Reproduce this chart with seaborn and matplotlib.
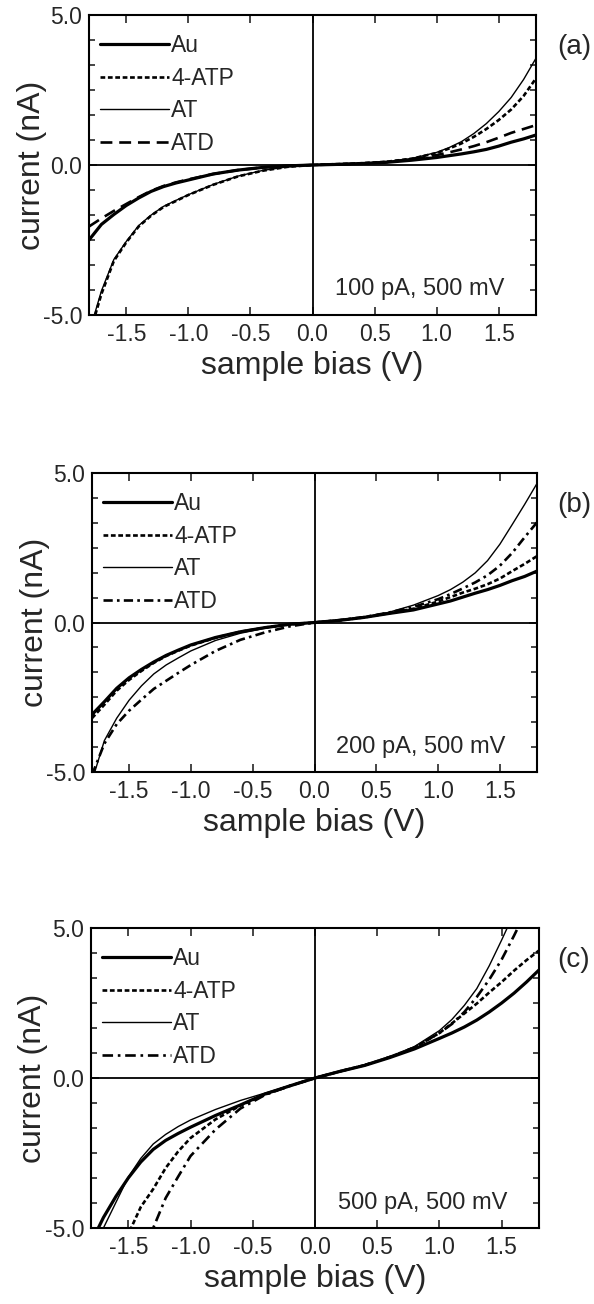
import numpy as np
import pandas as pd
import matplotlib
matplotlib.use("Agg")
import matplotlib.pyplot as plt
from matplotlib.ticker import MultipleLocator, FormatStrFormatter, FixedLocator
import seaborn as sns

# ---------------- data ----------------
bias = [-1.8, -1.7, -1.6, -1.5, -1.4, -1.3, -1.2, -1.1, -1.0, -0.8, -0.6, -0.4, -0.2,
        0.0, 0.2, 0.4, 0.6, 0.8, 1.0, 1.1, 1.2, 1.3, 1.4, 1.5, 1.6, 1.7, 1.8]

au_a = [-2.50, -1.98, -1.65, -1.35, -1.10, -0.88, -0.72, -0.60, -0.50, -0.30, -0.17, -0.08, -0.03,
        0.0, 0.02, 0.05, 0.09, 0.16, 0.25, 0.31, 0.37, 0.44, 0.52, 0.63, 0.76, 0.87, 1.00]
atp_a = [-5.70, -4.30, -3.20, -2.58, -2.05, -1.69, -1.40, -1.20, -1.00, -0.66, -0.38, -0.19, -0.06,
         0.0, 0.03, 0.06, 0.11, 0.21, 0.40, 0.55, 0.72, 0.94, 1.20, 1.50, 1.85, 2.30, 2.89]
at_a = [-5.60, -4.20, -3.15, -2.55, -2.02, -1.67, -1.38, -1.18, -0.99, -0.65, -0.37, -0.18, -0.06,
        0.0, 0.03, 0.06, 0.11, 0.22, 0.42, 0.58, 0.78, 1.05, 1.38, 1.78, 2.25, 2.85, 3.56]
atd_a = [-2.05, -1.78, -1.53, -1.30, -1.07, -0.86, -0.70, -0.58, -0.48, -0.30, -0.17, -0.08, -0.03,
         0.0, 0.02, 0.05, 0.10, 0.19, 0.33, 0.42, 0.52, 0.63, 0.76, 0.91, 1.07, 1.20, 1.33]

au_b = [-3.08, -2.65, -2.20, -1.85, -1.57, -1.32, -1.10, -0.92, -0.75, -0.50, -0.31, -0.17, -0.06,
        0.0, 0.07, 0.17, 0.30, 0.42, 0.62, 0.72, 0.85, 0.98, 1.10, 1.24, 1.40, 1.54, 1.72]
atp_b = [-3.20, -2.75, -2.28, -1.92, -1.62, -1.35, -1.12, -0.94, -0.77, -0.51, -0.31, -0.17, -0.06,
         0.0, 0.07, 0.17, 0.31, 0.46, 0.70, 0.85, 1.00, 1.13, 1.28, 1.47, 1.72, 1.96, 2.22]
at_b = [-5.30, -3.95, -3.20, -2.60, -2.12, -1.72, -1.42, -1.18, -0.95, -0.60, -0.36, -0.19, -0.07,
        0.0, 0.08, 0.18, 0.34, 0.58, 0.90, 1.10, 1.35, 1.66, 2.07, 2.62, 3.28, 3.95, 4.65]
atd_b = [-5.10, -4.05, -3.40, -2.95, -2.58, -2.22, -1.95, -1.68, -1.42, -0.95, -0.58, -0.33, -0.13,
         0.0, 0.08, 0.18, 0.33, 0.52, 0.78, 0.95, 1.14, 1.34, 1.58, 1.90, 2.33, 2.85, 3.35]

au_c = [-5.50, -4.65, -3.95, -3.33, -2.80, -2.38, -2.08, -1.85, -1.64, -1.25, -0.90, -0.53, -0.26,
        0.0, 0.22, 0.42, 0.68, 0.97, 1.32, 1.50, 1.70, 1.93, 2.20, 2.50, 2.83, 3.20, 3.60]
atp_c = [-8.00, -7.00, -6.00, -5.20, -4.30, -3.70, -3.00, -2.45, -2.00, -1.38, -0.92, -0.55, -0.26,
         0.0, 0.22, 0.43, 0.70, 1.02, 1.50, 1.82, 2.15, 2.48, 2.85, 3.20, 3.58, 3.93, 4.25]
at_c = [-5.80, -5.00, -4.15, -3.30, -2.68, -2.20, -1.88, -1.62, -1.40, -1.05, -0.75, -0.50, -0.25,
        0.0, 0.22, 0.42, 0.69, 1.05, 1.58, 1.95, 2.42, 2.98, 3.74, 4.60, 5.50, 6.40, 7.30]
atd_c = [-10.0, -9.00, -8.00, -7.00, -6.00, -5.00, -4.00, -3.29, -2.60, -1.72, -1.02, -0.56, -0.26,
         0.0, 0.22, 0.43, 0.70, 1.02, 1.50, 1.80, 2.20, 2.70, 3.28, 3.95, 4.75, 5.60, 6.40]

samples = ["Au", "4-ATP", "AT", "ATD"]
panel_labels = ["(a)", "(b)", "(c)"]
setpoints = ["100 pA, 500 mV", "200 pA, 500 mV", "500 pA, 500 mV"]
x_ticks = [-1.5, -1.0, -0.5, 0.0, 0.5, 1.0, 1.5]
y_ticks = [-5.0, 0.0, 5.0]
x_label = "sample bias (V)"
y_label = "current (nA)"

panels_data = [
    {"Au": au_a, "4-ATP": atp_a, "AT": at_a, "ATD": atd_a},
    {"Au": au_b, "4-ATP": atp_b, "AT": at_b, "ATD": atd_b},
    {"Au": au_c, "4-ATP": atp_c, "AT": at_c, "ATD": atd_c},
]

# ---------------- styles ----------------
sns.set_style("ticks")
plt.rcParams["font.family"] = ["Liberation Sans", "DejaVu Sans"]
plt.rcParams["axes.unicode_minus"] = False

widths = {"Au": 2.3, "4-ATP": 1.9, "AT": 1.0, "ATD": 1.9}
styles_per_panel = [
    {"Au": "-", "4-ATP": (0, (1.8, 1.0)), "AT": "-", "ATD": (0, (4.5, 2.6))},
    {"Au": "-", "4-ATP": (0, (1.8, 1.0)), "AT": "-", "ATD": (0, (3.5, 1.6, 1.0, 1.6))},
    {"Au": "-", "4-ATP": (0, (1.8, 1.0)), "AT": "-", "ATD": (0, (4.0, 1.8, 1.0, 1.8))},
]

W, H = 594, 1304
fig = plt.figure(figsize=(W / 100, H / 100), dpi=100)

# axes rectangles in pixels: left, top, right, bottom
rects = [(89, 15, 536, 315), (92, 473, 537, 772), (91, 928, 539, 1228)]

for i, (l, t, r, b) in enumerate(rects):
    ax = fig.add_axes([l / W, 1 - b / H, (r - l) / W, (b - t) / H])
    data = panels_data[i]
    for s in samples:
        df = pd.DataFrame({"bias": bias, "current": data[s]})
        sns.lineplot(data=df, x="bias", y="current", ax=ax, color="black",
                     linewidth=widths[s], linestyle=styles_per_panel[i][s],
                     label=s, errorbar=None, sort=True)
    ax.axhline(0, color="black", lw=1.3, zorder=1)
    ax.axvline(0, color="black", lw=1.3, zorder=1)
    ax.set_xlim(-1.8, 1.8)
    ax.set_ylim(-5, 5)
    ax.xaxis.set_major_locator(FixedLocator(x_ticks))
    ax.yaxis.set_major_locator(FixedLocator(y_ticks))
    ax.yaxis.set_minor_locator(MultipleLocator(5 / 6))
    ax.xaxis.set_major_formatter(FormatStrFormatter("%.1f"))
    ax.yaxis.set_major_formatter(FormatStrFormatter("%.1f"))
    ax.tick_params(which="both", direction="in", top=True, right=True,
                   width=1.2, labelsize=16.5)
    ax.tick_params(which="major", length=6, pad=6)
    ax.tick_params(which="minor", length=4)
    ax.tick_params(axis="y", which="major", pad=5)
    for sp in ax.spines.values():
        sp.set_linewidth(1.5)
        sp.set_color("black")
    ax.set_xlabel(x_label, fontsize=23)
    ax.set_ylabel(y_label, fontsize=23)
    ax.xaxis.set_label_coords(0.5, -0.12)
    ax.yaxis.set_label_coords(-0.095, 0.5)
    leg = ax.legend(loc="upper left", bbox_to_anchor=(0.0, 0.975), frameon=False,
                    fontsize=16.5, handlelength=3.0, handletextpad=0.08,
                    labelspacing=0.42, borderaxespad=0.2, borderpad=0.3)
    ax.text(0.93, 0.085, setpoints[i], transform=ax.transAxes, ha="right",
            va="center", fontsize=17)
    ax.text(557 / W, 1 - (t + 32) / H, panel_labels[i], transform=fig.transFigure,
            ha="left", va="center", fontsize=20)

fig.savefig("out.png", dpi=100)
